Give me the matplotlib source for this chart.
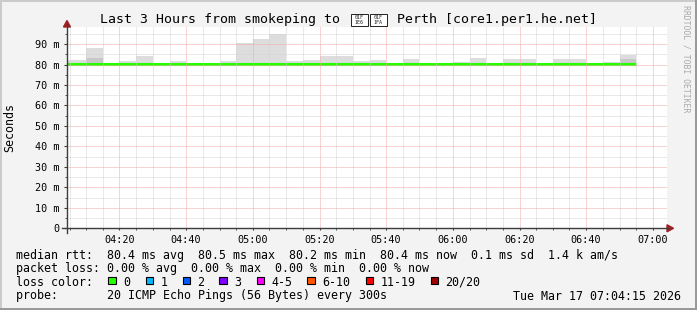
#!/usr/bin/env python3
"""Smokeping style latency graph: last 3 hours to Perth."""

import matplotlib

matplotlib.use("Agg")
import matplotlib.dates as mdates
import matplotlib.pyplot as plt
import pandas as pd
from matplotlib.lines import Line2D
from matplotlib.patches import Polygon, Rectangle
from matplotlib.ticker import FuncFormatter, MultipleLocator
from matplotlib.transforms import Affine2D

# --- data ------------------------------------------------------------------
# the title holds the AU flag (regional indicators U+1F1E6 U+1F1FA); no installed
# font has them, so like the reference they are drawn as hex boxes
TITLE_HEAD = "Last 3 Hours from smokeping to"
TITLE_FLAG_HEX = ["01F\n1E6", "01F\n1FA"]
TITLE_TAIL = "Perth [core1.per1.he.net]"
GRAPH_START = pd.Timestamp("2026-03-17 04:04:15")
GRAPH_END = pd.Timestamp("2026-03-17 07:04:15")
FIRST_BIN = pd.Timestamp("2026-03-17 04:00:00")
STEP = pd.Timedelta(minutes=5)

# smoke (upper ping envelope, ms) per 5-minute bin starting 04:00
smoke_top = [
    82.3, 82.3, 88.2, 80.8, 81.5, 84.4, 80.8, 81.5, 80.8, 80.8,
    81.5, 90.3, 92.6, 94.9, 81.5, 82.3, 84.4, 84.4, 81.8, 82.3,
    80.8, 82.8, 80.8, 80.8, 81.4, 83.3, 80.8, 82.8, 82.8, 80.8,
    82.8, 82.8, 80.8, 81.3, 84.5,
]
# denser part of the smoke (darker grey)
smoke_core = [
    80.0, 80.0, 83.3, 80.0, 80.0, 80.0, 80.0, 80.0, 80.0, 80.0,
    80.0, 80.0, 80.0, 80.0, 80.0, 80.0, 80.0, 80.0, 80.0, 80.0,
    80.0, 80.0, 80.0, 80.0, 80.0, 80.0, 80.0, 80.0, 80.0, 80.0,
    80.0, 80.0, 80.0, 80.0, 82.8,
]
smoke_floor = 80.0
median_rtt = [
    80.4, 80.4, 80.2, 80.4, 80.4, 80.4, 80.4, 80.4, 80.4, 80.4,
    80.4, 80.5, 80.5, 80.4, 80.4, 80.4, 80.4, 80.4, 80.4, 80.4,
    80.4, 80.4, 80.4, 80.4, 80.4, 80.4, 80.4, 80.4, 80.4, 80.4,
    80.4, 80.4, 80.4, 80.4, 80.4,
]

loss_labels = ["0", "1", "2", "3", "4-5", "6-10", "11-19", "20/20"]
loss_colors = ["#26ff00", "#00b8ff", "#0059ff", "#7e00ff", "#ff00ff", "#ff5500", "#ff0000", "#a10000"]
loss_box_x = [108.3, 145.7, 182.7, 219.3, 256.7, 307.3, 365.7, 430.7]

legend_lines = [
    "median rtt:  80.4 ms avg  80.5 ms max  80.2 ms min  80.4 ms now  0.1 ms sd  1.4 k am/s",
    "packet loss: 0.00 % avg  0.00 % max  0.00 % min  0.00 % now",
    "loss color:",
    "probe:       20 ICMP Echo Pings (56 Bytes) every 300s",
]
legend_y = [255.0, 268.5, 282.3, 296.0]
STAMP = "Tue Mar 17 07:04:15 2026"

# --- figure ----------------------------------------------------------------
W, H = 697, 310
MONO = "DejaVu Sans Mono"
fig = plt.figure(figsize=(W / 100, H / 100), dpi=100)
fig.patch.set_facecolor("#f3f3f3")
px = Affine2D().scale(1 / W, -1 / H).translate(0, 1) + fig.transFigure

# plot area in pixels
left, right, top, bottom = 67, 667, 27.3, 228.3
ax = fig.add_axes([left / W, 1 - bottom / H, (right - left) / W, (bottom - top) / H])
ax.set_facecolor("white")

n_bins = len(smoke_top)
edges = mdates.date2num([FIRST_BIN + STEP * i for i in range(n_bins + 1)])
ax.stairs(smoke_top, edges, baseline=smoke_floor, fill=True, color="#dddddd", lw=0)
ax.stairs(smoke_core, edges, baseline=smoke_floor, fill=True, color="#c8c8c8", lw=0)
ax.stairs(median_rtt, edges, baseline=None, color=loss_colors[0], lw=2.2)

ax.set_xlim(mdates.date2num(GRAPH_START), mdates.date2num(GRAPH_END))
ax.set_ylim(0, 98.2)

ax.xaxis.set_major_locator(mdates.MinuteLocator(byminute=[0, 20, 40]))
ax.xaxis.set_minor_locator(mdates.MinuteLocator(byminute=range(0, 60, 5)))
ax.xaxis.set_major_formatter(mdates.DateFormatter("%H:%M"))
ax.yaxis.set_major_locator(MultipleLocator(10))
ax.yaxis.set_minor_locator(MultipleLocator(5))
ax.yaxis.set_major_formatter(FuncFormatter(lambda v, pos: "0" if v == 0 else f"{v:.0f} m"))

ax.set_axisbelow(False)
ax.grid(which="minor", color="#d4d4d4", linestyle=(0, (1, 1)), lw=0.72)
ax.grid(which="major", color="#f4a8a8", linestyle=(0, (1, 1)), lw=0.72)

for s in ax.spines.values():
    s.set_visible(False)
ax.tick_params(axis="both", which="both", colors="#3c3c3c", labelcolor="black",
               labelsize=7.3, labelfontfamily=MONO, direction="out")
ax.tick_params(axis="y", which="major", length=2.2, pad=3.4)
ax.tick_params(axis="y", which="minor", length=1.4)
ax.tick_params(axis="x", which="major", length=1.5, pad=3.2)
ax.tick_params(axis="x", which="minor", length=1.5)

# axis lines with arrows
fig.add_artist(Line2D([left, left], [233, 24], transform=px, color="#3c3c3c", lw=1.0))
fig.add_artist(Line2D([62, right + 2], [bottom, bottom], transform=px, color="#3c3c3c", lw=1.0))
fig.add_artist(Polygon([(63.5, 27), (70.5, 27), (67, 20.5)], closed=True, transform=px, color="#a02020"))
fig.add_artist(Polygon([(667, 224.8), (667, 231.8), (673.5, 228.3)], closed=True, transform=px, color="#a02020"))

# frame shading
fig.add_artist(Rectangle((0, 0), W, 2, transform=px, color="#cbcbcb", lw=0))
fig.add_artist(Rectangle((0, 0), 2, H, transform=px, color="#cbcbcb", lw=0))
fig.add_artist(Rectangle((0, H - 2), W, 2, transform=px, color="#999999", lw=0))
fig.add_artist(Rectangle((W - 2, 0), 2, H, transform=px, color="#999999", lw=0))

# title: text, two hex boxes for the flag, text
fig.text(100, 19, TITLE_HEAD, transform=px, ha="left", va="center", fontsize=9.5, family=MONO)
for i, hexcode in enumerate(TITLE_FLAG_HEX):
    bx = 350.5 + i * 19
    fig.add_artist(Rectangle((bx, 13.5), 17.5, 12, transform=px, facecolor="white",
                             edgecolor="#222222", lw=0.7))
    fig.text(bx + 8.75, 19.6, hexcode, transform=px, ha="center", va="center",
             fontsize=3.6, family=MONO, linespacing=1.0, color="#222222")
fig.text(396.7, 19, TITLE_TAIL, transform=px, ha="left", va="center", fontsize=9.5, family=MONO)

fig.text(10, (top + bottom) / 2, "Seconds", transform=px, rotation=90, ha="center",
         va="center", fontsize=8.4, family=MONO)
fig.text(686, 5, "RRDTOOL / TOBI OETIKER", transform=px, rotation=270, ha="center",
         va="top", fontsize=5.9, family=MONO, color="#aaaaaa")

for line, y in zip(legend_lines, legend_y):
    fig.text(16, y, line, transform=px, ha="left", va="center", fontsize=8.4, family=MONO)
fig.text(681, legend_y[3], STAMP, transform=px, ha="right", va="center", fontsize=8.4, family=MONO)

for x, label, color in zip(loss_box_x, loss_labels, loss_colors):
    fig.add_artist(Rectangle((x, 276.6), 7.6, 7.6, transform=px, facecolor=color,
                             edgecolor="black", lw=0.8))
    fig.text(x + 14.6, legend_y[2], label, transform=px, ha="left", va="center",
             fontsize=8.4, family=MONO)

fig.savefig("out.png", dpi=100, facecolor=fig.get_facecolor())
